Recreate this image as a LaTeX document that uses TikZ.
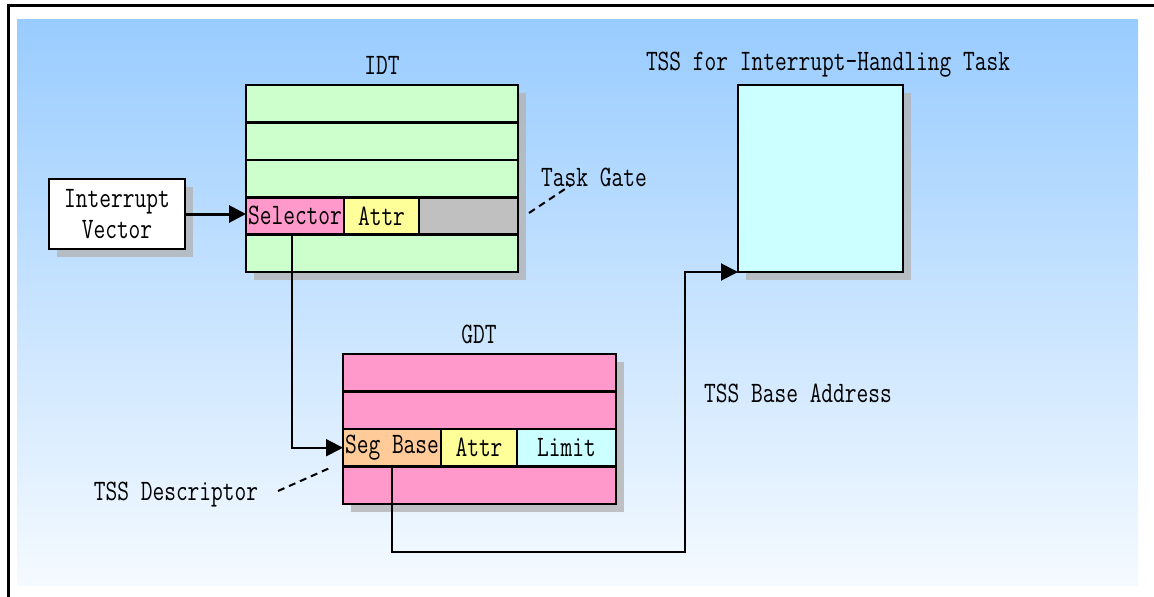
\documentclass[tikz,border=0pt]{standalone}
\usepackage{graphicx}
\usepackage{tikz}
\usetikzlibrary{positioning,arrows.meta}
\definecolor{bgtop}{HTML}{99CCFF}
\definecolor{bgbot}{HTML}{F5FAFF}
\definecolor{idtgreen}{HTML}{CCFFCC}
\definecolor{gdtpink}{HTML}{FF99CC}
\definecolor{attryellow}{HTML}{FFFF99}
\definecolor{gapgray}{HTML}{C0C0C0}
\definecolor{baseorange}{HTML}{FFCC99}
\definecolor{tsscyan}{HTML}{CCFFFF}
\definecolor{shadowgray}{HTML}{B4B4B4}
\newcommand{\tall}[1]{\scalebox{1}[1.3]{#1}}

\begin{document}
\begin{tikzpicture}[x=1pt,y=-1pt,
    every node/.style={font=\ttfamily\fontsize{22.8}{31}\selectfont,inner sep=0pt},
    cell/.style={draw=black,line width=2.6pt,outer sep=0pt,minimum height=37.45pt,anchor=north west},
    shadowbox/.style={fill=shadowgray,opacity=0.8},
    link/.style={line width=2pt,-{Triangle[length=17pt,width=17pt]}},
    dashline/.style={line width=2pt,dash pattern=on 7pt off 5pt}]
    \useasboundingbox (0,0) rectangle (1154,597);
    % frame and background
    \draw[line width=3pt] (8,597) |- (1154,5);
    \shade[top color=bgtop,bottom color=bgbot] (17,19) rectangle (1138,585);
    % shadows
    \fill[shadowbox] (57,187) rectangle (193,257);
    \fill[shadowbox] (254,93) rectangle (526,280);
    \fill[shadowbox] (746,93) rectangle (911,280);
    \fill[shadowbox] (351,362) rectangle (624,512);
    % interrupt vector
    \node[draw,line width=2.6pt,fill=white,minimum width=136pt,minimum height=70pt,align=center] (ivec) at (117,214) {\tall{Interrupt}\\\tall{Vector}};
    % IDT
    \foreach \r in {0,1,2,4}
      \node[cell,fill=idtgreen,minimum width=272pt] (idt\r) at (246,{85+37.4*\r}) {};
    \node[cell,fill=gdtpink,minimum width=98pt] (sel) at (246,197.2) {\tall{Selector}};
    \node[cell,fill=attryellow,minimum width=75pt,right=0pt of sel] (iattr) {\tall{Attr}};
    \node[cell,fill=gapgray,minimum width=99pt,right=0pt of iattr] (igap) {};
    \node (idttitle) at (382,65) {\tall{IDT}};
    % TSS
    \node[cell,fill=tsscyan,minimum width=165pt,minimum height=187pt] (tss) at (738,85) {};
    \node (tsstitle) at (828,65) {\tall{TSS for Interrupt-Handling Task}};
    % GDT
    \foreach \r in {0,1,3}
      \node[cell,fill=gdtpink,minimum width=273pt] (gdt\r) at (343,{354+37.5*\r}) {};
    \node[cell,fill=baseorange,minimum width=98pt] (sbase) at (343,429) {\tall{Seg Base}};
    \node[cell,fill=attryellow,minimum width=76pt,right=0pt of sbase] (gattr) {\tall{Attr}};
    \node[cell,fill=tsscyan,minimum width=99pt,right=0pt of gattr] (limit) {\tall{Limit}};
    \node (gdttitle) at (479,334) {\tall{GDT}};
    % labels
    \node (taskgate) at (594,177) {\tall{Task Gate}};
    \node (tssdesc) at (176,495) {\tall{TSS Descriptor}};
    \node (tssbase) at (798,393) {\tall{TSS Base Address}};
    \coordinate (tgfrom) at (529,213);
    \coordinate (tgto) at (571,185);
    \coordinate (tdfrom) at (278,491);
    \coordinate (tdto) at (332,467);
    \coordinate (turn) at (685,552);
    % connectors
    \draw[link,line width=3pt] (ivec.east) -- (ivec.east -| sel.west);
    \draw[link] ([xshift=-3pt]sel.south) |- (sbase.west);
    \draw[link] (sbase.south) |- (turn) |- (tss.south west);
    \draw[dashline] (tgfrom) -- (tgto);
    \draw[dashline] (tdfrom) -- (tdto);
\end{tikzpicture}
\end{document}
